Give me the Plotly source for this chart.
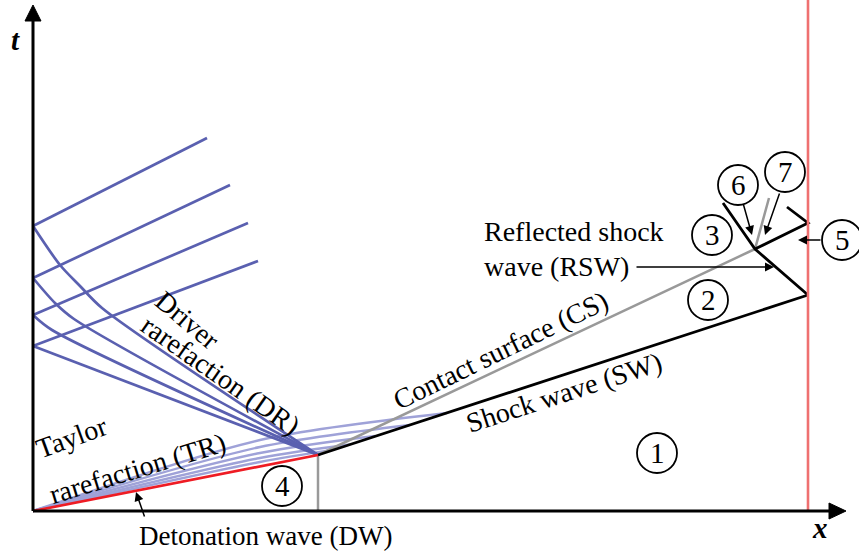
import plotly.graph_objects as go

# ---------------- data (x = distance, t = time, schematic units) ----------------
wall_x = 775
t_max = 511
x_axis_tip = 813
t_axis_tip = 506

dw_x = [0, 285]
dw_t = [0, 56]
diaphragm_x = [285, 285]
diaphragm_t = [0, 56]
sw_x = [285, 775]
sw_t = [56, 216]
cs_x = [285, 722, 736]
cs_t = [56, 262, 313]
rsw_x = [775, 722, 690]
rsw_t = [216, 262, 308]
rsw2_x = [722, 775, 754]
rsw2_t = [262, 288, 304]

# driver rarefaction: incident characteristics (fan centred at diaphragm) bending at crossings
dr_inc_x = [[0, 27, 47, 69, 285], [0, 22, 41, 285], [0, 19, 285], [0, 285]]
dr_inc_t = [[285, 246, 225, 203, 56], [233, 208, 192, 56], [196, 181, 56], [165, 56]]
# reflected characteristics from the left wall
dr_ref_x = [[0, 174], [0, 197], [0, 215], [0, 225]]
dr_ref_t = [[285, 373], [233, 326], [196, 288], [165, 250]]

# Taylor rarefaction characteristics
tr_x = [[0, 227, 414], [0, 227, 377], [0, 227, 342], [0, 227, 317], [0, 227, 302]]
tr_t = [[0, 71, 98], [0, 64, 86], [0, 58, 75], [0, 53, 66.5], [0, 49, 61.6]]

region_labels = ["1", "2", "3", "4", "5", "6", "7"]
region_x = [624, 675, 679, 249, 809, 705, 752]
region_t = [58, 211, 276, 25, 271, 326, 339]

DR_BLUE = "#5a60b0"
TR_BLUE = "#9fa2d8"
DW_RED = "#ee1c24"
WALL_RED = "#ef7070"
GREY = "#999999"
FONT = "Liberation Serif, Times New Roman, serif"

fig = go.Figure()

def line(xs, ts, color, width=2.0, shape="linear"):
    fig.add_trace(go.Scatter(x=xs, y=ts, mode="lines",
                             line=dict(color=color, width=width, shape=shape, smoothing=0.8),
                             hoverinfo="skip", showlegend=False))

# Taylor rarefaction (behind)
for xs, ts in zip(tr_x, tr_t):
    line(xs, ts, TR_BLUE, 2.4, "spline")
# driver rarefaction
for xs, ts in zip(dr_ref_x, dr_ref_t):
    line(xs, ts, DR_BLUE, 2.7)
for xs, ts in zip(dr_inc_x, dr_inc_t):
    line(xs, ts, DR_BLUE, 2.7, "spline")

line(diaphragm_x, diaphragm_t, GREY, 2.5)
line(cs_x, cs_t, GREY, 2.5)
line(sw_x, sw_t, "black", 2.8)
line(rsw_x, rsw_t, "black", 2.8)
line(rsw2_x, rsw2_t, "black", 2.8)
line(dw_x, dw_t, DW_RED, 2.7)
line([wall_x, wall_x], [0, t_max], WALL_RED, 2.6)

# axes
line([0, x_axis_tip - 16], [0, 0], "black", 3)
line([0, 0], [0, t_axis_tip - 15], "black", 3)
fig.add_trace(go.Scatter(x=[x_axis_tip, x_axis_tip - 17, x_axis_tip - 17, x_axis_tip],
                         y=[0, 8, -8, 0], mode="lines", fill="toself", fillcolor="black",
                         line=dict(color="black", width=1), hoverinfo="skip", showlegend=False))
fig.add_trace(go.Scatter(x=[0, -8, 8, 0], y=[t_axis_tip, t_axis_tip - 16, t_axis_tip - 16, t_axis_tip],
                         mode="lines", fill="toself", fillcolor="black",
                         line=dict(color="black", width=1), hoverinfo="skip", showlegend=False))

shapes = []
for cx, ct in zip(region_x, region_t):
    shapes.append(dict(type="circle", xref="x", yref="y", x0=cx - 20, x1=cx + 20,
                       y0=ct - 20, y1=ct + 20, line=dict(color="black", width=1.8)))

ann = []
def txt(x, t, s, angle=0, size=28, xanchor="center", **kw):
    ann.append(dict(x=x, y=t, xref="x", yref="y", text=s, showarrow=False, textangle=angle,
                    xanchor=xanchor, yanchor="middle", font=dict(family=FONT, size=size, color="black"), **kw))

for lab, cx, ct in zip(region_labels, region_x, region_t):
    txt(cx, ct, lab, size=29)

txt(-18, 471, "<b><i>t</i></b>", size=29)
txt(787, -17, "<b><i>x</i></b>", size=29)
txt(232, -25, "Detonation wave (DW)", size=27)
txt(38, 74, "Taylor", angle=-20)
txt(104, 43, "rarefaction (TR)", angle=-17)
txt(155, 191, "Driver", angle=40)
txt(188, 136, "rarefaction (DR)", angle=35)
txt(467, 161, "Contact surface (CS)", angle=-26)
txt(531, 119, "Shock wave (SW)", angle=-18)
txt(449, 280, "Reflected shock", xanchor="left")
txt(449, 245, "wave (RSW)", xanchor="left")

def arrow(x0, t0, x1, t1):
    ann.append(dict(x=x1, y=t1, ax=x0, ay=t0, xref="x", yref="y", axref="x", ayref="y",
                    text="", showarrow=True, arrowhead=2, arrowsize=1.2, arrowwidth=1.5,
                    arrowcolor="black", standoff=0, startstandoff=0))

arrow(602, 244, 741, 244)   # RSW pointer
arrow(112, -7, 103, 19)     # DW pointer
arrow(710, 308, 719, 276)   # region 6 pointer
arrow(747, 319, 732, 276)   # region 7 pointer
arrow(789, 271, 765, 271)   # region 5 pointer

fig.update_layout(
    width=859, height=552, margin=dict(l=0, r=0, t=0, b=0),
    paper_bgcolor="white", plot_bgcolor="white",
    xaxis=dict(range=[-33, 826], visible=False, fixedrange=True),
    yaxis=dict(range=[-41, 511], visible=False, fixedrange=True),
    shapes=shapes, annotations=ann, showlegend=False,
)
fig.write_html("out.html")
